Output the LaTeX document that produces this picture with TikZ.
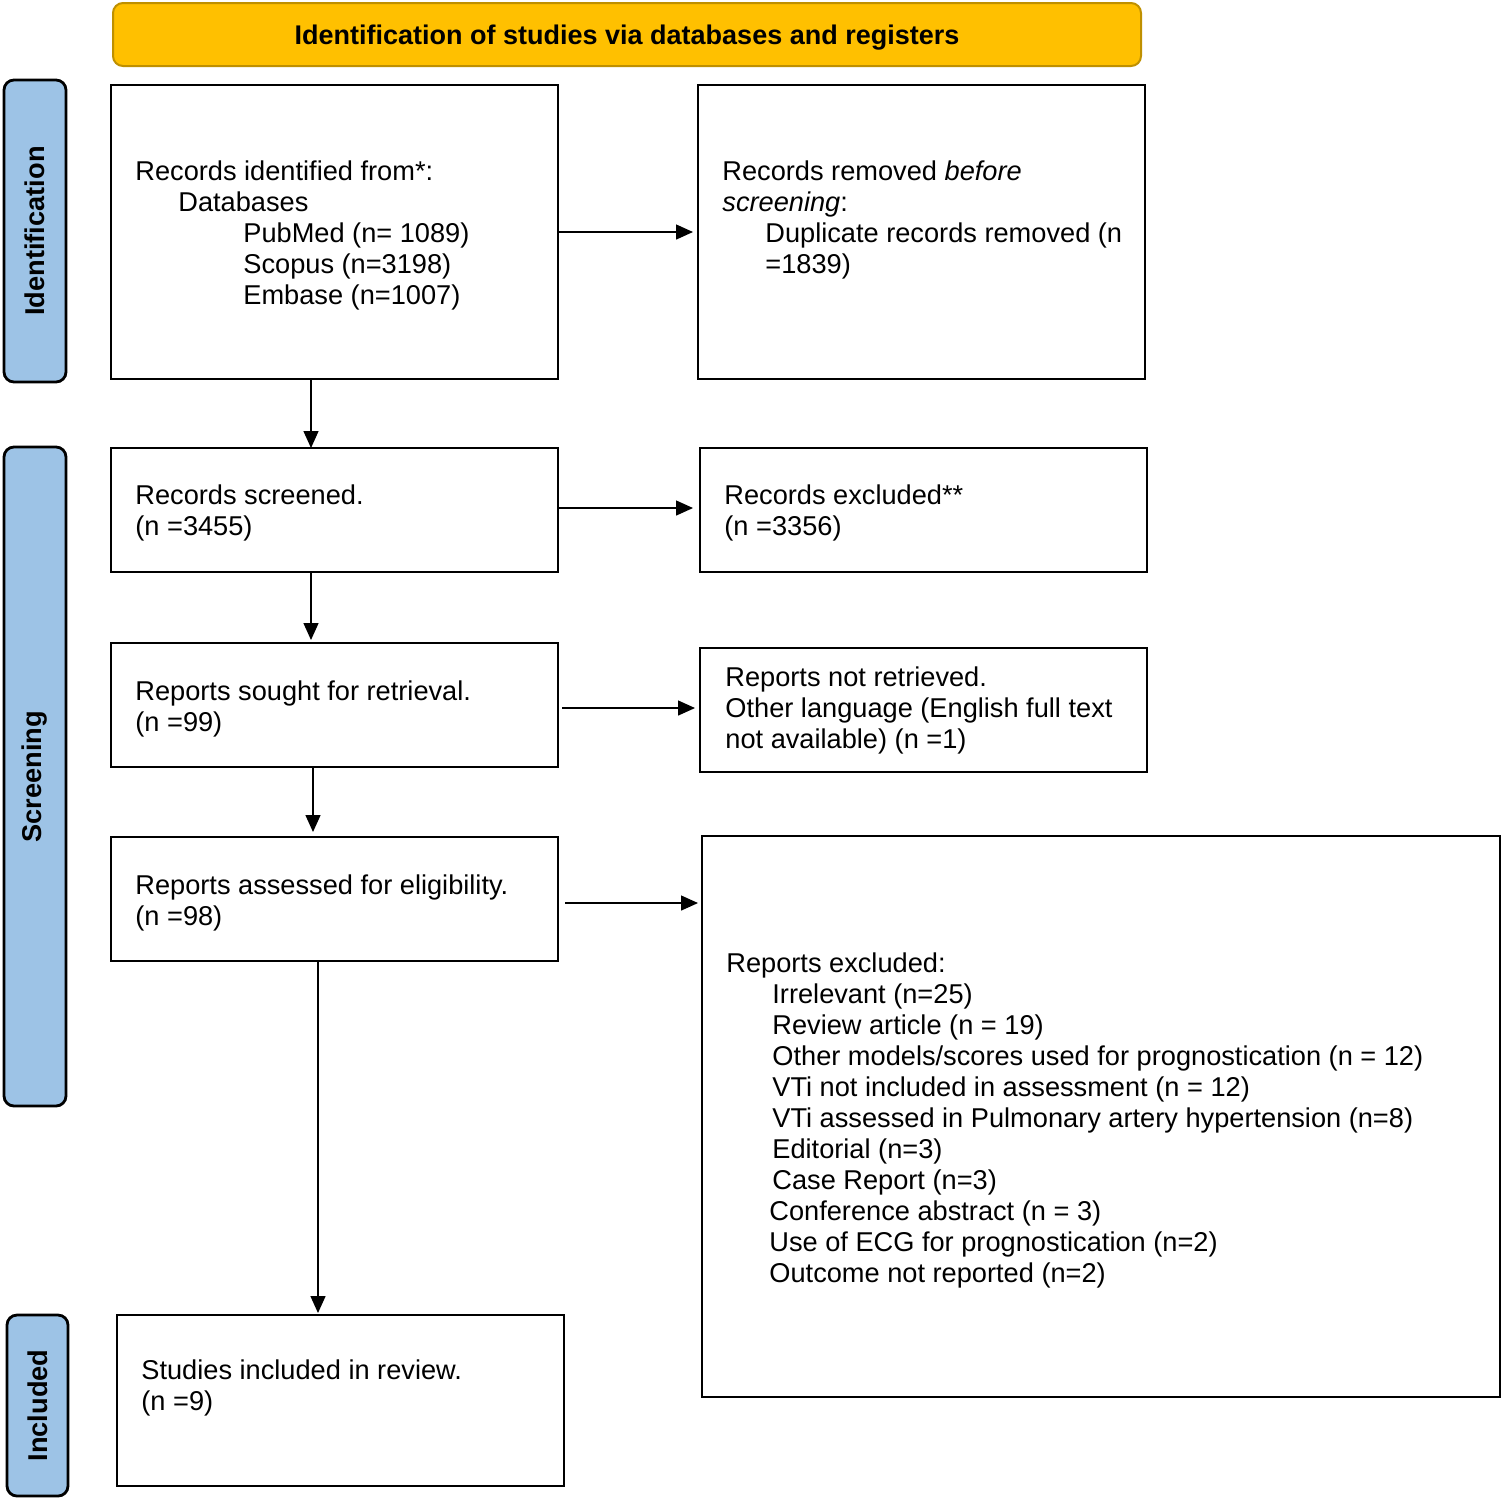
\documentclass[tikz,border=0pt]{standalone}
\usepackage{fontspec}
\setmainfont{Liberation Sans}
\usetikzlibrary{arrows.meta,fit}
\definecolor{hdr}{HTML}{FFC000}
\definecolor{hdrb}{HTML}{BF9000}
\definecolor{side}{HTML}{9DC3E6}
\tikzset{
  box/.style={draw, line width=1.4pt, inner sep=0pt, outer sep=0pt},
  sidebar/.style={draw, line width=1.4pt, fill=side, rounded corners=5pt, inner sep=0pt, outer sep=0pt},
  sidelabel/.style={rotate=90, font=\fontsize{13.6}{15}\selectfont\bfseries, inner sep=0pt},
  txt/.style={anchor=base west, inner sep=0pt, align=left, font=\fontsize{13.6}{15.5}\selectfont},
  arr/.style={-{Triangle[length=8.5pt,width=7.5pt]}, line width=0.7pt},
}
\begin{document}
\begin{tikzpicture}[x=0.5pt,y=-0.5pt]
\useasboundingbox (0,0) rectangle (1502,1501);
% header
\node[draw=hdrb, line width=1pt, fill=hdr, rounded corners=5pt, inner sep=0pt, fit={(113,3) (1141,66)}] (hdr) {};
\node[font=\fontsize{13.5}{15}\selectfont\bfseries, inner sep=0pt, anchor=base] (hdrtxt) at ([yshift=-5pt]hdr.center) {Identification of studies via databases and registers};
% side bars
\node[sidebar, fit={(4,80) (66,382)}] (sid) {};
\node[sidelabel] (sidt) at (sid.center) {Identification};
\node[sidebar, fit={(4,447) (66,1106)}] (sscr) {};
\node[sidelabel] (sscrt) at (sscr.center) {Screening};
\node[sidebar, fit={(7,1315) (68,1496)}] (sinc) {};
\node[sidelabel] (sinct) at (sinc.center) {Included};
% boxes
\node[box, fit={(111,85) (558,379)}] (b1) {};
\node[box, fit={(698,85) (1145,379)}] (b2) {};
\node[box, fit={(111,448) (558,572)}] (b3) {};
\node[box, fit={(700,448) (1147,572)}] (b4) {};
\node[box, fit={(111,643) (558,767)}] (b5) {};
\node[box, fit={(700,648) (1147,772)}] (b6) {};
\node[box, fit={(111,837) (558,961)}] (b7) {};
\node[box, fit={(702,836) (1500,1397)}] (b8) {};
\node[box, fit={(117,1315) (564,1486)}] (b9) {};
% texts (anchored at the baseline of their last line)
\node[txt] (t1) at (135,304) {Records identified from*:\\\hspace*{21.5pt}Databases\\\hspace*{54pt}PubMed (n= 1089)\\\hspace*{54pt}Scopus (n=3198)\\\hspace*{54pt}Embase (n=1007)};
\node[txt] (t2) at (722,273) {Records removed \textit{before}\\\textit{screening}:\\\hspace*{21.5pt}Duplicate records removed (n\\\hspace*{21.5pt}=1839)};
\node[txt] (t3) at (135,535) {Records screened.\\(n =3455)};
\node[txt] (t4) at (724,535) {Records excluded**\\(n =3356)};
\node[txt] (t5) at (135,731) {Reports sought for retrieval.\\(n =99)};
\node[txt] (t6) at (725,748) {Reports not retrieved.\\Other language (English full text\\not available) (n =1)};
\node[txt] (t7) at (135,925) {Reports assessed for eligibility.\\(n =98)};
\node[txt] (t8) at (726,1282) {Reports excluded:\\
\hspace*{23pt}Irrelevant (n=25)\\
\hspace*{23pt}Review article (n = 19)\\
\hspace*{23pt}Other models/scores used for prognostication (n = 12)\\
\hspace*{23pt}VTi not included in assessment (n = 12)\\
\hspace*{23pt}VTi assessed in Pulmonary artery hypertension (n=8)\\
\hspace*{23pt}Editorial (n=3)\\
\hspace*{23pt}Case Report (n=3)\\
\hspace*{21.5pt}Conference abstract (n = 3)\\
\hspace*{21.5pt}Use of ECG for prognostication (n=2)\\
\hspace*{21.5pt}Outcome not reported (n=2)};
\node[txt] (t9) at (141,1410) {Studies included in review.\\(n =9)};
% connectors
\draw[arr, shorten >=2.5pt] (b1.east) -- (b1.east -| b2.west);
\draw[arr, shorten >=3.5pt] ([yshift=1pt]b3.east) -- ([yshift=1pt]b3.east -| b4.west);
\draw[arr, shorten <=2pt, shorten >=2.5pt] ([yshift=-1.5pt]b5.east) -- ([yshift=-1.5pt]b5.east -| b6.west);
\draw[arr, shorten <=3.5pt, shorten >=2pt] ([yshift=-2pt]b7.east) -- ([yshift=-2pt]b7.east -| b8.west);
\draw[arr] ([xshift=-11.75pt]b1.south) -- ([xshift=-11.75pt]b1.south |- b3.north);
\draw[arr, shorten >=1.5pt] ([xshift=-11.75pt]b3.south) -- ([xshift=-11.75pt]b3.south |- b5.north);
\draw[arr, shorten >=2.5pt] ([xshift=-10.75pt]b5.south) -- ([xshift=-10.75pt]b5.south |- b7.north);
\draw[arr, shorten >=1pt] ([xshift=-8.25pt]b7.south) -- ([xshift=-8.25pt]b7.south |- b9.north);
\end{tikzpicture}
\end{document}
